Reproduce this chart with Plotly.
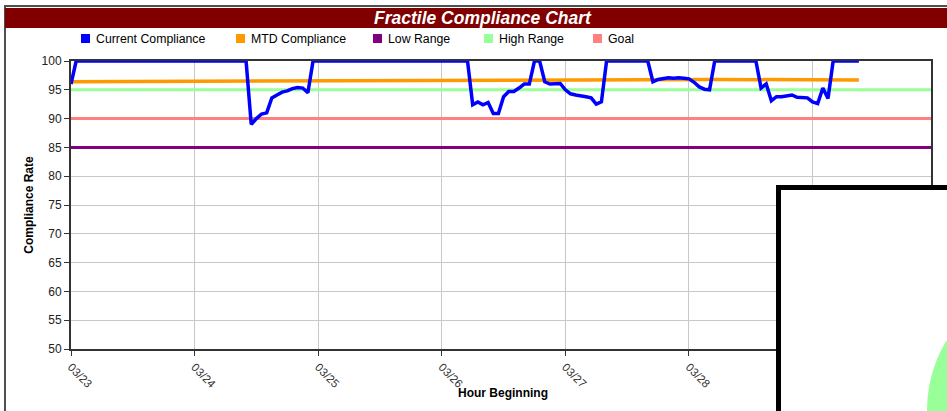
import plotly.graph_objects as go
from datetime import datetime, timedelta

# ---------------- data ----------------
start_date = datetime(2012, 3, 23)
range_end_hour = 167

current_hours = [0, 1, 34, 35, 36, 37, 38, 39, 40, 41, 42, 43, 44, 45, 46, 47, 77,
                 78, 79, 80, 81, 82, 83, 84, 85, 86, 87, 88, 89, 90, 91, 92, 93, 94,
                 95, 96, 97, 98, 99, 100, 101, 102, 103, 104, 112, 113, 114, 115, 116,
                 117, 118, 119, 120, 121, 122, 123, 124, 125, 133, 134, 135, 136, 137,
                 138, 139, 140, 141, 142, 143, 144, 145, 146, 147, 148, 153]
current_values = [96, 100, 100, 89, 90, 90.8, 91, 93.6, 94.1, 94.6, 94.8, 95.2, 95.4, 95.3, 94.5, 100, 100,
                  92.4, 92.9, 92.4, 92.8, 90.9, 90.9, 93.8, 94.7, 94.7, 95.3, 96, 96, 100, 100, 96.4, 96, 96,
                  96.1, 95, 94.3, 94.1, 94, 93.8, 93.6, 92.5, 92.9, 100, 100, 96.4, 96.8, 97, 97.1,
                  97, 97.1, 97, 96.9, 96.3, 95.5, 95.1, 95, 100, 100, 95.3, 96, 93.1, 93.8,
                  93.8, 94, 94.1, 93.7, 93.6, 93.6, 92.9, 92.6, 95.3, 93.5, 100, 100]

mtd_hours = [0, 35, 78, 100, 125, 153]
mtd_values = [96.4, 96.5, 96.6, 96.7, 96.8, 96.7]

band_hours = [0, range_end_hour]
low_range = [85, 85]
high_range = [95, 95]
goal = [90, 90]

legend_names = ["Current Compliance", "MTD Compliance", "Low Range", "High Range", "Goal"]
legend_colors = ["#0000FF", "#FF9900", "#800080", "#99FF99", "#FF8080"]

day_ticks = [0, 24, 48, 72, 96, 120, 144]
y_ticks = [50, 55, 60, 65, 70, 75, 80, 85, 90, 95, 100]


def to_time(hours):
    return [start_date + timedelta(hours=h) for h in hours]


# ---------------- geometry helpers (pixel -> paper) ----------------
W, H = 947, 411
PL, PR, PT, PB = 71, 931, 61, 349


def px(x):
    return (x - PL) / (PR - PL)


def py(y):
    return (PB - y) / (PB - PT)


FONT = "Liberation Sans, Arial, sans-serif"

fig = go.Figure()

fig.add_trace(go.Scatter(x=to_time(band_hours), y=goal, mode="lines", name="Goal",
                         line=dict(color="#FF8080", width=3), showlegend=False))
fig.add_trace(go.Scatter(x=to_time(band_hours), y=high_range, mode="lines", name="High Range",
                         line=dict(color="#99FF99", width=3), showlegend=False))
fig.add_trace(go.Scatter(x=to_time(band_hours), y=low_range, mode="lines", name="Low Range",
                         line=dict(color="#800080", width=3), showlegend=False))
fig.add_trace(go.Scatter(x=to_time(mtd_hours), y=mtd_values, mode="lines", name="MTD Compliance",
                         line=dict(color="#FF9900", width=3.5), showlegend=False))
fig.add_trace(go.Scatter(x=to_time(current_hours), y=current_values, mode="lines",
                         name="Current Compliance",
                         line=dict(color="#0000FF", width=3.5), showlegend=False))

shapes = []
annotations = []

# outer frame
shapes.append(dict(type="rect", xref="paper", yref="paper",
                   x0=px(5), x1=px(1000), y0=py(600), y1=py(6),
                   line=dict(color="#505050", width=2), fillcolor="rgba(0,0,0,0)", layer="below"))
# title bar
shapes.append(dict(type="rect", xref="paper", yref="paper",
                   x0=px(5), x1=px(1000), y0=py(28), y1=py(8),
                   line=dict(width=0), fillcolor="#800000"))
annotations.append(dict(text="<b><i>Fractile Compliance Chart</i></b>", xref="paper", yref="paper",
                        x=px(483), y=py(18), xanchor="center", yanchor="middle", showarrow=False,
                        font=dict(family=FONT, size=17.5, color="#FFFFFF")))

# legend (squares + text)
legend_text_x = [94, 249, 386, 497, 606]
for name, color, tx in zip(legend_names, legend_colors, legend_text_x):
    shapes.append(dict(type="rect", xref="paper", yref="paper",
                       x0=px(tx - 13), x1=px(tx - 4), y0=py(43), y1=py(34),
                       line=dict(width=0), fillcolor=color))
    annotations.append(dict(text=name, xref="paper", yref="paper", x=px(tx), y=py(38.5),
                            xanchor="left", yanchor="middle", showarrow=False,
                            font=dict(family=FONT, size=12.3, color="#000000")))

# x-axis title
annotations.append(dict(text="<b>Hour Beginning</b>", xref="paper", yref="paper",
                        x=px(503), y=py(393), xanchor="center", yanchor="middle", showarrow=False,
                        font=dict(family=FONT, size=12, color="#000000")))

# overlapping window in the lower right
shapes.append(dict(type="rect", xref="paper", yref="paper",
                   x0=px(778.5), x1=px(1100), y0=py(600), y1=py(187.5),
                   line=dict(color="#000000", width=5), fillcolor="#FFFFFF"))
shapes.append(dict(type="circle", xref="paper", yref="paper",
                   x0=px(927), x1=px(1193), y0=py(543), y1=py(277),
                   line=dict(width=0), fillcolor="#99FF99"))

fig.update_layout(
    width=W, height=H,
    margin=dict(l=PL, r=W - PR, t=PT, b=H - PB),
    paper_bgcolor="#FFFFFF", plot_bgcolor="#FFFFFF",
    font=dict(family=FONT, size=12, color="#222222"),
    showlegend=False,
    shapes=shapes,
    annotations=annotations,
    xaxis=dict(
        range=[start_date, start_date + timedelta(hours=range_end_hour)],
        tickvals=to_time(day_ticks), tickformat="%m/%d", tickangle=45,
        showgrid=True, gridcolor="#C8C8C8", gridwidth=1,
        showline=True, linecolor="#333333", linewidth=2, mirror=True,
        ticks="outside", ticklen=5, tickcolor="#333333",
        tickfont=dict(family=FONT, size=11.5, color="#333333"),
        zeroline=False, automargin=False,
    ),
    yaxis=dict(
        range=[50, 100], tickvals=y_ticks,
        showgrid=True, gridcolor="#C8C8C8", gridwidth=1,
        showline=True, linecolor="#333333", linewidth=2, mirror=True,
        ticks="outside", ticklen=5, tickcolor="#333333",
        tickfont=dict(family=FONT, size=12, color="#222222"),
        title=dict(text="<b>Compliance Rate</b>", font=dict(family=FONT, size=12, color="#000000"),
                   standoff=5),
        zeroline=False, automargin=False,
    ),
)

fig.write_html("out.html", config={"displayModeBar": False},
               post_script="document.body.style.margin='0px';document.body.style.overflow='hidden';")
